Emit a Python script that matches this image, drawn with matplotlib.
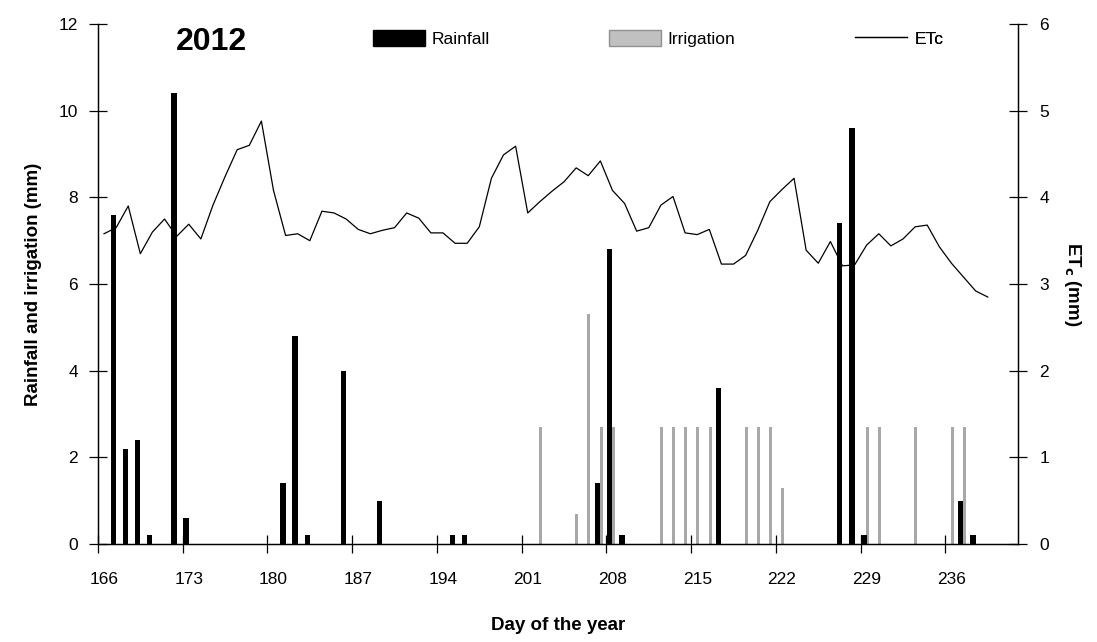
import matplotlib
matplotlib.use("Agg")
import matplotlib.pyplot as plt
from matplotlib.patches import Patch
from matplotlib.lines import Line2D

plt.rcParams['font.family'] = ['Liberation Sans', 'DejaVu Sans']

# rainfall (mm), day of year
rain_day = [167, 168, 169, 170, 172, 173, 181, 182, 183, 186, 189, 195, 196,
            207, 208, 209, 217, 227, 228, 229, 237, 238]
rain_mm = [7.6, 2.2, 2.4, 0.2, 10.4, 0.6, 1.4, 4.8, 0.2, 4.0, 1.0, 0.2, 0.2,
           1.4, 6.8, 0.2, 3.6, 7.4, 9.6, 0.2, 1.0, 0.2]

# irrigation (mm)
irr_day = [202, 205, 206, 207, 208, 212, 213, 214, 215, 216, 219, 220, 221,
           222, 229, 230, 233, 236, 237]
irr_mm = [2.7, 0.7, 5.3, 2.7, 2.7, 2.7, 2.7, 2.7, 2.7, 2.7, 2.7, 2.7, 2.7,
          1.3, 2.7, 2.7, 2.7, 2.7, 2.7]

# crop evapotranspiration ETc (mm), days 166..239
etc_day = list(range(166, 240))
etc_mm = [3.58, 3.65, 3.90, 3.35, 3.60, 3.75, 3.55, 3.69, 3.52, 3.91,
          4.24, 4.55, 4.60, 4.88, 4.08, 3.56, 3.58, 3.50, 3.84, 3.82,
          3.75, 3.63, 3.58, 3.62, 3.65, 3.82, 3.76, 3.59, 3.59, 3.47,
          3.47, 3.66, 4.22, 4.49, 4.59, 3.82, 3.95, 4.07, 4.18, 4.34,
          4.25, 4.42, 4.08, 3.93, 3.61, 3.65, 3.91, 4.01, 3.59, 3.57,
          3.63, 3.23, 3.23, 3.33, 3.62, 3.95, 4.09, 4.22, 3.39, 3.24,
          3.49, 3.21, 3.22, 3.45, 3.58, 3.44, 3.52, 3.66, 3.68, 3.43,
          3.24, 3.08, 2.92, 2.85]

tick_days = list(range(166, 237, 7))

fig = plt.figure(figsize=(10.97, 6.42), dpi=100)
ax = fig.add_axes([0.0893, 0.1526, 0.8387, 0.81])
ax2 = ax.twinx()

ax.bar([d - 0.22 for d in rain_day], rain_mm, width=0.43, color='black', zorder=3)
ax.bar([d + 0.06 for d in irr_day], irr_mm, width=0.25, color='#a8a8a8', zorder=2)
ax2.plot(etc_day, etc_mm, color='black', lw=0.9)

ax.set_xlim(165.5, 241.5)
ax.set_ylim(0, 12)
ax2.set_ylim(0, 6)
ax.set_yticks(range(0, 13, 2))
ax2.set_yticks(range(0, 7))

ax.set_xticks(tick_days)
ax.set_xticklabels([str(d) for d in tick_days])
ax.set_xticks([d - 0.5 for d in tick_days], minor=True)
ax.tick_params(axis='x', which='major', length=0, pad=20, labelsize=12.5)
ax.tick_params(axis='x', which='minor', direction='inout', length=13, width=0.9)
ax.tick_params(axis='y', direction='inout', length=13, width=0.9, labelsize=12.5, pad=8)
ax2.tick_params(axis='y', direction='inout', length=13, width=0.9, labelsize=12.5, pad=9)

for a in (ax, ax2):
    a.spines['top'].set_visible(False)
    for s in ('left', 'right', 'bottom'):
        a.spines[s].set_linewidth(0.9)

ax.set_xlabel('Day of the year', fontsize=13.5, fontweight='bold', labelpad=22)
ax.set_ylabel('Rainfall and irrigation (mm)', fontsize=13.5, fontweight='bold', labelpad=12)
ax2.set_ylabel('ET$_\\mathbf{c}$ (mm)', fontsize=13.5, fontweight='bold', rotation=270, labelpad=24)

ax.text(0.123, 0.965, '2012', transform=ax.transAxes, fontsize=23,
        fontweight='bold', ha='center', va='center')

handles = [
    (Patch(facecolor='black', edgecolor='black'), 'Rainfall', 0.299),
    (Patch(facecolor='#c0c0c0', edgecolor='#909090'), 'Irrigation', 0.555),
    (Line2D([], [], color='black', lw=0.9), 'ETc', 0.823),
]
for h, lab, xpos in handles:
    leg = ax.legend([h], [lab], loc='center left', bbox_to_anchor=(xpos, 0.972),
                    frameon=False, fontsize=12.5, handlelength=3.0,
                    handleheight=1.0, handletextpad=0.4, borderpad=0,
                    borderaxespad=0)
    ax.add_artist(leg)

fig.savefig('out.png', dpi=100)
